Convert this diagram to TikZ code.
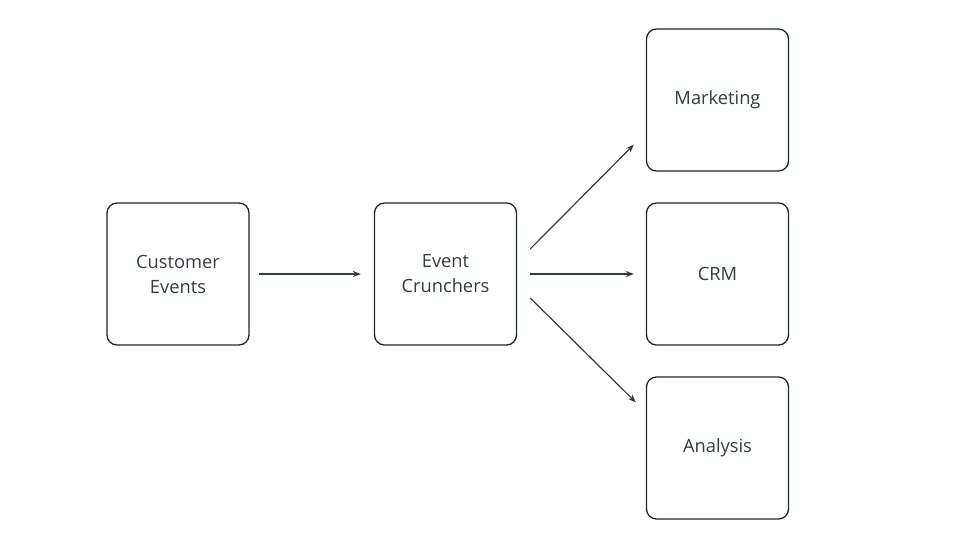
\documentclass[tikz,border=0pt]{standalone}
\usepackage{fontspec}
\setmainfont{Open Sans}
\usetikzlibrary{arrows.meta}
\definecolor{ink}{HTML}{1E2430}
\begin{document}
\begin{tikzpicture}[x=1pt,y=-1pt,
  box/.style={draw=ink, line width=1.3pt, rounded corners=10pt, minimum width=142pt, minimum height=142pt, align=center, font=\fontsize{18.3}{25}\selectfont, text=ink!90, inner sep=0pt},
  arr/.style={draw=ink!90, line width=1.2pt, -{Stealth[length=8pt,width=6pt]}}]
\useasboundingbox (0,0) rectangle (975,548);
\node[box] (ce) at (178,274) {Customer\\Events};
\node[box] (ec) at (445.5,274) {Event\\Crunchers};
\node[box] (mk) at (717.5,100) {Marketing};
\node[box] (crm) at (717.5,274) {CRM};
\node[box] (an) at (717.5,448) {Analysis};
\draw[arr] ([xshift=9pt]ce.east) -- ([xshift=-13pt]ec.west);
\draw[arr] ([xshift=13pt]ec.east) -- ([xshift=-12pt]crm.west);
\draw[arr] ([xshift=13pt,yshift=25pt]ec.east) -- ([xshift=-12pt,yshift=27pt]mk.south west);
\draw[arr] ([xshift=13pt,yshift=-24pt]ec.east) -- ([xshift=-10pt,yshift=-26pt]an.north west);
\end{tikzpicture}
\end{document}
